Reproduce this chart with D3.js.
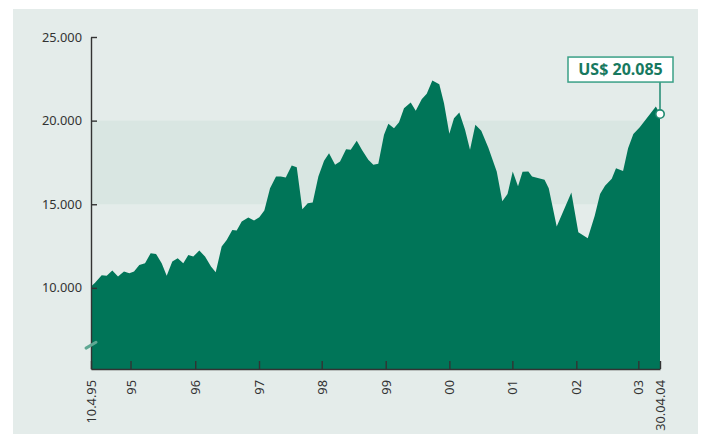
<!DOCTYPE html>
<html><head><meta charset="utf-8">
<script src="https://cdn.jsdelivr.net/npm/d3@7"></script>
<style>html,body{margin:0;padding:0;background:#fff;}svg{display:block;}</style>
</head><body>
<svg id="chart" width="702" height="434"></svg>
<script>
// decimal-year time of each observation
const times = [1995.271,1995.335,1995.441,1995.521,1995.610,1995.701,1995.796,1995.881,1995.956,1996.040,
1996.131,1996.221,1996.306,1996.396,1996.476,1996.565,1996.651,1996.740,1996.820,1996.899,
1996.995,1997.086,1997.181,1997.256,1997.351,1997.431,1997.520,1997.590,1997.670,1997.775,
1997.866,1997.950,1998.030,1998.121,1998.216,1998.291,1998.371,1998.466,1998.546,1998.635,
1998.721,1998.800,1998.890,1998.981,1999.060,1999.156,1999.235,1999.331,1999.405,1999.501,
1999.590,1999.685,1999.765,1999.844,1999.935,2000.004,2000.094,2000.174,2000.253,2000.360,
2000.440,2000.535,2000.615,2000.704,2000.815,2000.890,2000.975,2001.049,2001.134,2001.225,
2001.304,2001.389,2001.483,2001.596,2001.729,2001.818,2001.901,2001.984,2002.068,2002.140,
2002.233,2002.291,2002.490,2002.557,2002.684,2002.917,2003.028,2003.178,2003.289,2003.374,
2003.453,2003.560,2003.628,2003.740,2003.820,2003.904,2004.006,2004.262,2004.328];
// portfolio value (US$)
const values = [10080,10300,10760,10720,11035,10675,10975,10880,10975,11375,
11477,12075,12033,11477,10718,11573,11776,11477,11973,11872,
12231,11872,11274,10939,12470,12870,13468,13427,13965,14204,
14025,14228,14623,15962,16656,16656,16596,17314,17218,14706,
15065,15101,16656,17595,18055,17355,17553,18294,18252,18791,
18210,17654,17355,17415,19149,19807,19550,19909,20746,21081,
20585,21284,21601,22397,22181,21045,19209,20148,20483,19448,
18252,19747,19389,18372,16955,15185,15609,16955,16082,16937,
16955,16656,16458,15962,13666,15699,13319,12972,14306,15609,
16112,16518,17158,16985,18354,19197,19598,20842,20393];
const yTicks = [10000,15000,20000,25000];
const xTickTimes = [1995.271,1995.90,1996.93,1997.945,1998.943,1999.962,2000.975,2001.978,2002.996,2003.983,2004.328];
const xTickLabels = ["10.4.95","95","96","97","98","99","00","01","02","03","30.04.04"];
const bandRange = [15000,20000];
const calloutText = "US$ 20.085";

(function(){
const svg = d3.select("#chart");
const mLeft = 91, mRight = 660, mTop = 37, mBottom = 369;

// panel
svg.append("rect").attr("x",13).attr("y",9).attr("width",685).attr("height",425).attr("fill","#e4ecea");

const x = d3.scaleLinear().domain([times[0], times[times.length-1]]).range([mLeft, mRight]);
const y = d3.scaleLinear().domain([5150, 25000]).range([mBottom, mTop]);

// band
svg.append("rect").attr("x",mLeft).attr("width",mRight-mLeft)
  .attr("y",y(bandRange[1])).attr("height",y(bandRange[0])-y(bandRange[1]))
  .attr("fill","#d9e6e2");

const data = times.map((t,i)=>({t, v: values[i]}));
const area = d3.area().x(d=>x(d.t)).y0(mBottom).y1(d=>y(d.v));
svg.append("path").datum(data).attr("d",area).attr("fill","#007558");

const font = "'Noto Sans', 'Open Sans', sans-serif";
const loc = d3.formatLocale({thousands:".",decimal:",",grouping:[3],currency:["",""]});
const fmt = loc.format(",");

// y axis
const gy = svg.append("g").attr("transform",`translate(${mLeft},0)`)
  .call(d3.axisLeft(y).tickValues(yTicks).tickFormat(fmt).tickSizeInner(-6).tickSizeOuter(0).tickPadding(9));
gy.select(".domain").attr("stroke","#333").attr("stroke-width",1.4);
gy.selectAll(".tick line").attr("stroke","#333").attr("stroke-width",1.4);
gy.selectAll(".tick text").attr("font-family",font).attr("font-size","12.8px").attr("fill","#333");

// x axis
const gx = svg.append("g").attr("transform",`translate(0,${mBottom})`)
  .call(d3.axisBottom(x).tickValues(xTickTimes).tickFormat((d,i)=>xTickLabels[i]).tickSizeInner(-8).tickSizeOuter(0));
gx.select(".domain").attr("stroke","#333").attr("stroke-width",1.6);
gx.selectAll(".tick line").attr("stroke","#333").attr("stroke-width",1.4);
gx.selectAll(".tick text").attr("font-family",font).attr("font-size","12.8px").attr("fill","#333")
  .attr("transform","rotate(-90)").attr("text-anchor","end").attr("x",-11).attr("y",0).attr("dy","0.35em");

// axis break mark
svg.append("line").attr("x1",mLeft-5).attr("y1",y(6400)).attr("x2",mLeft+5).attr("y2",y(6750))
  .attr("stroke","#5fa893").attr("stroke-width",3).attr("stroke-linecap","round");

// callout
const last = data[data.length-1];
const cx = x(last.t), cy = y(last.v);
const boxR = cx + 13, boxB = cy - 32, boxW = 105, boxH = 25;
svg.append("line").attr("x1",cx).attr("x2",cx).attr("y1",boxB).attr("y2",cy).attr("stroke","#1f8a70").attr("stroke-width",1.5);
svg.append("rect").attr("x",boxR-boxW).attr("y",boxB-boxH).attr("width",boxW).attr("height",boxH)
  .attr("fill","#fff").attr("stroke","#3aa087").attr("stroke-width",1.5);
svg.append("text").attr("x",boxR-boxW/2).attr("y",boxB-boxH/2).attr("dy","0.36em").attr("text-anchor","middle")
  .attr("font-family",font).attr("font-weight","bold").attr("font-size","16px").attr("fill","#17795f").text(calloutText);
svg.append("circle").attr("cx",cx).attr("cy",cy).attr("r",4.2).attr("fill","#fff").attr("stroke","#1f8a70").attr("stroke-width",1.6);
})();
</script>
</body></html>
